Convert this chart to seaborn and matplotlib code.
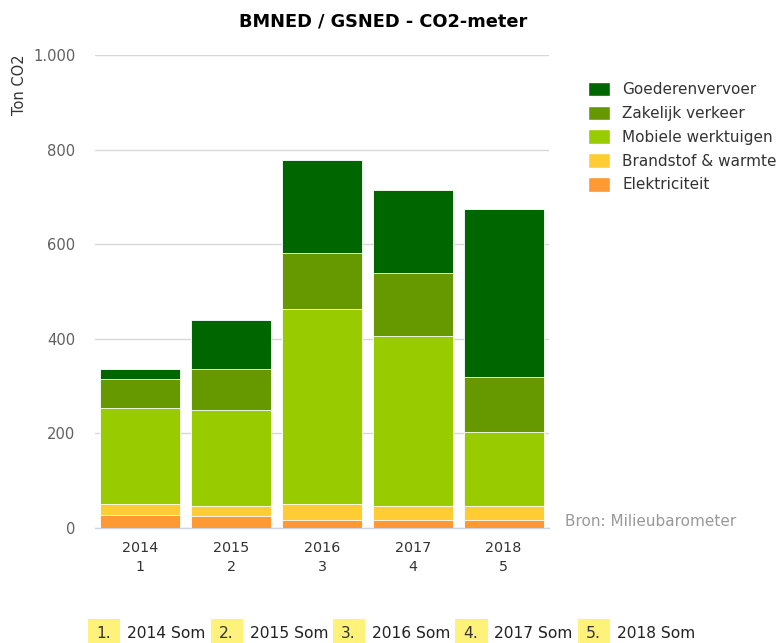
import matplotlib
matplotlib.use("Agg")
import matplotlib.pyplot as plt
import numpy as np
import pandas as pd
import seaborn as sns
from matplotlib.patches import Patch, Rectangle
from matplotlib.ticker import FuncFormatter

# ---- data ------------------------------------------------------------------
years = ["2014", "2015", "2016", "2017", "2018"]
tick_labels = ["2014\n1", "2015\n2", "2016\n3", "2017\n4", "2018\n5"]
elektriciteit = [28, 25, 17, 17, 17]
brandstof = [22, 22, 33, 30, 30]
mobiele = [203, 203, 412, 359, 155]
zakelijk = [63, 86, 119, 133, 117]
goederen = [20, 104, 198, 175, 356]

series = ["Elektriciteit", "Brandstof & warmte", "Mobiele werktuigen",
          "Zakelijk verkeer", "Goederenvervoer"]
colors = ["#ff9933", "#ffcc33", "#99cc00", "#669900", "#006600"]
footer = ["2014 Som", "2015 Som", "2016 Som", "2017 Som", "2018 Som"]

sns.set_theme(style="white")
plt.rcParams["font.family"] = ["DejaVu Sans"]

df = pd.DataFrame({"year": years, "Elektriciteit": elektriciteit,
                   "Brandstof & warmte": brandstof, "Mobiele werktuigen": mobiele,
                   "Zakelijk verkeer": zakelijk, "Goederenvervoer": goederen})
cum = df[series].cumsum(axis=1)
cum["year"] = df["year"]

W, H = 782, 643
fig = plt.figure(figsize=(W / 100, H / 100), dpi=100)
ax = fig.add_axes([95 / W, 1 - 528 / H, 454 / W, 473 / H])

# stacked bars: draw cumulative totals from top to bottom so lower layers overpaint
for name, col in reversed(list(zip(series, colors))):
    sns.barplot(data=cum, x="year", y=name, color=col, width=0.88,
                edgecolor="white", linewidth=0.6, saturation=1, ax=ax, zorder=3)

ax.set_xlim(-0.5, 4.5)
ax.set_ylim(0, 1000)
ax.set_yticks([0, 200, 400, 600, 800, 1000])
ax.yaxis.set_major_formatter(FuncFormatter(lambda v, p: f"{int(v):,}".replace(",", ".")))
ax.grid(axis="y", color="#d8d8d8", linewidth=1, zorder=0)
ax.set_axisbelow(True)
ax.set_xticks(range(5))
ax.set_xticklabels(tick_labels, linespacing=1.5)
ax.set_xticks(np.arange(-0.5, 5, 1), minor=True)
ax.tick_params(axis="x", which="major", length=0, pad=9, labelsize=10.3, labelcolor="#333333")
ax.tick_params(axis="x", which="minor", length=7, width=1, color="#ccd6eb")
ax.tick_params(axis="y", length=0, pad=14, labelsize=10.6, labelcolor="#606060")
ax.set_xlabel("")
ax.set_ylabel("")
for s in ["top", "right", "left"]:
    ax.spines[s].set_visible(False)
ax.spines["bottom"].set_color("#ccd6eb")
ax.spines["bottom"].set_linewidth(1)

fig.text(383 / W, 1 - 21 / H, "BMNED / GSNED - CO2-meter", ha="center", va="center",
         fontsize=12.8, fontweight="bold", color="#000000")
fig.text(19 / W, 1 - 85 / H, "Ton CO2", rotation=90, ha="center", va="center",
         fontsize=10.5, color="#333333")
fig.text(565 / W, 1 - 521 / H, "Bron: Milieubarometer", ha="left", va="center",
         fontsize=11, color="#999999")

handles = [Patch(facecolor=c, edgecolor="white", label=n)
           for n, c in reversed(list(zip(series, colors)))]
fig.legend(handles=handles, loc="upper left", bbox_to_anchor=(574 / W, 1 - 68 / H),
           frameon=False, fontsize=11, handlelength=1.45, handleheight=1.1,
           handletextpad=0.8, labelspacing=0.54, labelcolor="#333333")

# footer with highlighted numbers
for i, lab in enumerate(footer):
    x0 = 88 + 122.5 * i
    fig.patches.append(Rectangle((x0 / W, 0), 32 / W, 24 / H, transform=fig.transFigure,
                                 facecolor="#fff27a", edgecolor="none"))
    fig.text((x0 + 8) / W, 1 - 634 / H, f"{i + 1}.", ha="left", va="center",
             fontsize=11.2, color="#333333")
    fig.text((x0 + 39) / W, 1 - 634 / H, lab, ha="left", va="center", fontsize=11.2,
             color="#222222")

fig.savefig("out.png", dpi=100)
